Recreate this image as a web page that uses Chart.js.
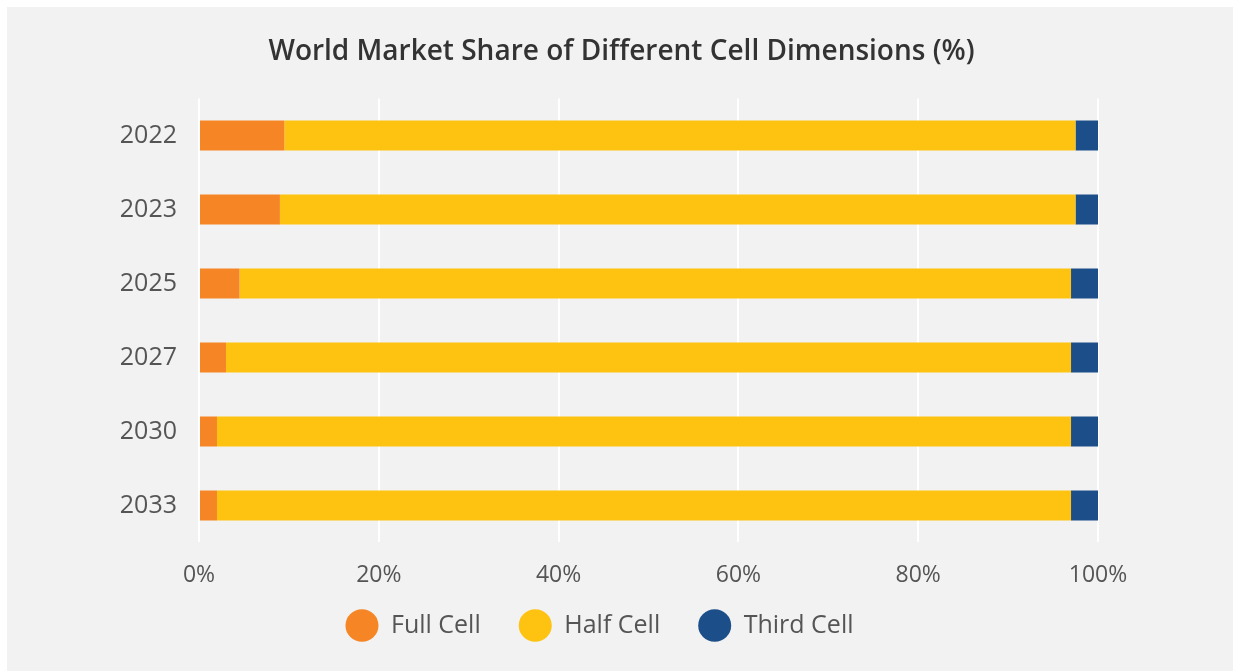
<!DOCTYPE html>
<html>
<head>
<meta charset="utf-8">
<script src="https://cdn.jsdelivr.net/npm/chart.js@4/dist/chart.umd.min.js"></script>
<style>
  html, body { margin: 0; padding: 0; background: #fff; }
  #panel {
    position: absolute;
    left: 7px;
    top: 7px;
    width: 1226px;
    height: 664px;
    background: #f2f2f2;
  }
</style>
</head>
<body>
<div id="panel"><canvas id="chart" width="1226" height="664"></canvas></div>
<script>
const years = ['2022', '2023', '2025', '2027', '2030', '2033'];
const fullCell = [9.5, 9, 4.5, 3, 2, 2];
const halfCell = [88, 88.5, 92.5, 94, 95, 95];
const thirdCell = [2.5, 2.5, 3, 3, 3, 3];
const xTicks = [0, 20, 40, 60, 80, 100];

const fontFamily = '"Open Sans", "Noto Sans", sans-serif';

// title and legend are centred on the panel, not on the plot box
const shiftBoxes = {
  id: 'shiftBoxes',
  afterLayout(chart) {
    chart.titleBlock.left += 69;
    chart.titleBlock.right += 69;
    chart.legend.left += 47;
    chart.legend.right += 47;
    chart.legend.top -= 33;
    chart.legend.bottom -= 33;
  }
};

const canvas = document.getElementById('chart');

new Chart(canvas, {
  type: 'bar',
  data: {
    labels: years,
    datasets: [
      { label: 'Full Cell', data: fullCell, backgroundColor: '#f68525' },
      { label: 'Half Cell', data: halfCell, backgroundColor: '#fec311' },
      { label: 'Third Cell', data: thirdCell, backgroundColor: '#1c4f89' }
    ]
  },
  plugins: [shiftBoxes],
  options: {
    indexAxis: 'y',
    responsive: false,
    animation: false,
    barPercentage: 0.405,
    categoryPercentage: 1,
    layout: {
      padding: { left: 0, right: 135, top: 0, bottom: -10 }
    },
    scales: {
      x: {
        stacked: true,
        min: 0,
        max: 100,
        border: { display: false },
        grid: { color: '#ffffff', lineWidth: 2, drawTicks: false },
        afterBuildTicks: (scale) => {
          scale.ticks = xTicks.map(v => ({ value: v }));
        },
        ticks: {
          padding: 19,
          color: '#555555',
          font: { family: fontFamily, size: 23 },
          callback: (v) => v + '%'
        }
      },
      y: {
        stacked: true,
        border: { display: false },
        grid: { display: false, drawTicks: false },
        afterFit: (scale) => { scale.width = 192; },
        ticks: {
          padding: 22,
          color: '#555555',
          font: { family: fontFamily, size: 25 }
        }
      }
    },
    plugins: {
      title: {
        display: true,
        text: 'World Market Share of Different Cell Dimensions (%)',
        color: '#333333',
        font: { family: fontFamily, size: 28, weight: '600' },
        padding: { top: 28, bottom: 30 }
      },
      legend: {
        position: 'bottom',
        labels: {
          usePointStyle: true,
          pointStyle: 'circle',
          pointStyleWidth: 33,
          boxHeight: 23,
          padding: 38,
          color: '#555555',
          font: { family: fontFamily, size: 25 }
        }
      },
      tooltip: { enabled: false }
    }
  }
});
</script>
</body>
</html>
